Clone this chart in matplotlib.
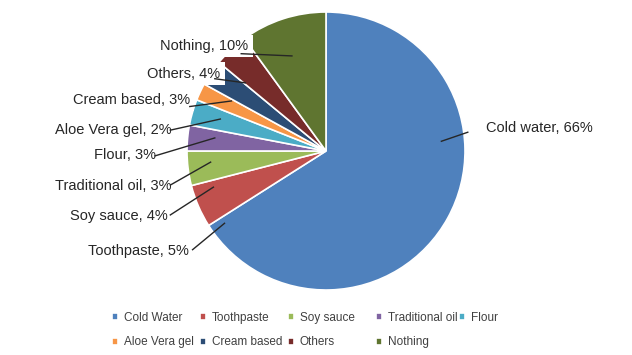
import matplotlib.pyplot as plt

labels = ['Cold Water', 'Toothpaste', 'Soy sauce', 'Traditional oil', 'Flour',
          'Aloe Vera gel', 'Cream based', 'Others', 'Nothing']
callouts = ['Cold water, 66%', 'Toothpaste, 5%', 'Soy sauce, 4%', 'Traditional oil, 3%',
            'Flour, 3%', 'Aloe Vera gel, 2%', 'Cream based, 3%', 'Others, 4%', 'Nothing, 10%']
values = [66, 5, 4, 3, 3, 2, 3, 4, 10]
colors = ['#4F81BD', '#C0504D', '#9BBB59', '#8064A2', '#4BACC6',
          '#F79646', '#2C4D75', '#772C2A', '#5F7530']

# label placement (data units, pie radius = 1): text anchor, leader line start/end
text_pos = [(1.15, 0.165), (-0.99, -0.72), (-1.14, -0.47), (-1.11, -0.25), (-1.22, -0.03),
            (-1.11, 0.15), (-0.98, 0.37), (-0.76, 0.555), (-0.56, 0.755)]
line_start = [(0.83, 0.07), (-0.73, -0.52), (-0.81, -0.26), (-0.83, -0.08), (-0.80, 0.094),
              (-0.76, 0.23), (-0.68, 0.36), (-0.58, 0.49), (-0.245, 0.684)]
line_end = [(1.02, 0.135), (-0.96, -0.71), (-1.12, -0.46), (-1.12, -0.245), (-1.23, -0.035),
            (-1.12, 0.15), (-0.98, 0.32), (-0.80, 0.52), (-0.61, 0.70)]

fig = plt.figure(figsize=(6.32, 3.55), dpi=100)
ax = fig.add_axes([(326 - 139) / 632, (355 - 290) / 355, 278 / 632, 278 / 355])
wedges, _ = ax.pie(values, colors=colors, startangle=90, counterclock=False, radius=1,
                   wedgeprops=dict(edgecolor='white', linewidth=1.2))
ax.set_xlim(-1, 1)
ax.set_ylim(-1, 1)
ax.set_aspect('equal')

for i, txt in enumerate(callouts):
    ha = 'left' if text_pos[i][0] > 0 else 'right'
    ax.text(text_pos[i][0], text_pos[i][1], txt, ha=ha, va='center', fontsize=10.5,
            family='Liberation Sans', color='#262626', zorder=5, clip_on=False,
            bbox=dict(boxstyle='square,pad=0.3', fc='white', ec='none'))
for s, e in zip(line_start, line_end):
    ax.plot([s[0], e[0]], [s[1], e[1]], color='#262626', lw=1, zorder=6, clip_on=False)

# legend: Excel-style equal width columns, filled row by row
col_x = [112, 200, 288, 376, 459]
for c in range(5):
    idx = [i for i in (c, c + 5) if i < len(labels)]
    fig.legend([wedges[i] for i in idx], [labels[i] for i in idx], ncol=1,
               loc='upper left', bbox_to_anchor=(col_x[c] / 632, 1 - 312 / 355),
               frameon=False, borderpad=0, borderaxespad=0,
               prop=dict(family='Liberation Sans', size=8.5), handlelength=0.55,
               handleheight=0.55, handletextpad=0.45, labelspacing=1.05,
               labelcolor='#404040')

fig.savefig('out.png', dpi=100)
